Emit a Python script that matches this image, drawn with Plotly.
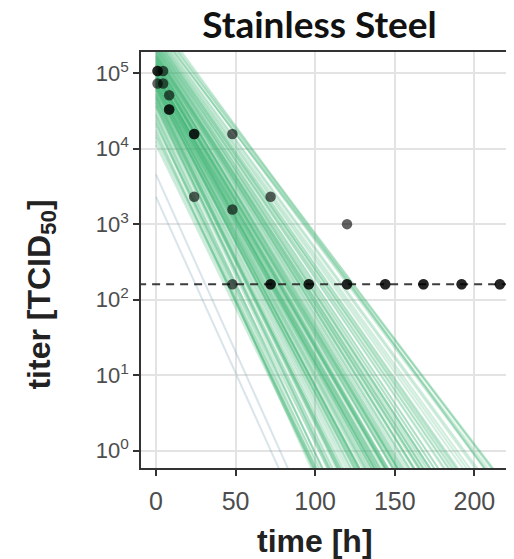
import plotly.graph_objects as go

# ---- data ----
obs_time = [1, 1, 4.5, 1, 4.5, 8.3, 8.3, 8.3, 24, 24, 48, 24, 72, 48, 120,
            48, 72, 72, 96, 96, 120, 120, 144, 144, 168, 168, 192, 192, 216, 216]
obs_titer = [107000, 107000, 107000, 73000, 73000, 51000, 33000, 33000, 15600, 15600, 15600,
             2300, 2300, 1560, 1000,
             160, 160, 160, 160, 160, 160, 160, 160, 160, 160, 160, 160, 160, 160, 160]
detection_limit = 160

# posterior sample lines: log10(titer) = intercept - slope * t
line_intercept = [5.00, 5.11, 4.86, 5.28, 4.69, 5.42, 4.55, 5.18, 4.93, 5.56,
                  4.41, 5.04, 4.79, 5.31, 4.65, 5.21, 4.90, 5.49, 4.48, 5.07,
                  4.97, 5.14, 4.83, 5.35, 4.72, 5.25, 4.60, 5.02, 5.38, 4.88,
                  5.10, 4.76, 5.46, 4.98, 5.20, 4.62, 5.60, 4.35, 5.16, 4.95,
                  5.05, 4.81, 5.33, 4.70, 5.24, 4.91, 5.12, 4.85, 5.40, 4.58,
                  5.65, 4.25, 5.08, 4.99, 5.29, 4.74, 5.52, 4.45, 5.19, 4.87,
                  5.01, 5.36, 4.67, 5.13, 4.10, 5.70, 4.94, 5.23, 4.80, 5.44,
                  4.05, 4.18, 4.30, 5.58, 5.75,
                  4.96, 5.09, 4.84, 5.26, 4.73, 5.39, 4.57, 5.17, 4.92, 5.50,
                  4.44, 5.03, 4.78, 5.32, 4.66, 5.22, 4.89, 5.47, 4.52, 5.06,
                  4.99, 5.15, 4.82, 5.34, 4.71, 5.27, 4.63, 5.00, 5.41, 4.86,
                  5.11, 4.77, 5.45, 4.97, 5.21, 4.61, 5.62, 4.38, 5.15, 4.94,
                  5.04, 4.80, 5.30, 4.68, 5.23, 4.90, 5.12, 4.86, 5.37, 4.56,
                  4.22, 5.54, 4.33, 5.68, 4.15, 5.07, 4.95, 5.18, 4.83, 5.02]
line_slope = [0.0370, 0.0352, 0.0398, 0.0328, 0.0418, 0.0308, 0.0438, 0.0356, 0.0372, 0.0287,
              0.0462, 0.0362, 0.0405, 0.0322, 0.0428, 0.0342, 0.0390, 0.0297, 0.0452, 0.0350,
              0.0380, 0.0340, 0.0385, 0.0315, 0.0410, 0.0338, 0.0445, 0.0375, 0.0305, 0.0378,
              0.0366, 0.0400, 0.0300, 0.0358, 0.0330, 0.0425, 0.0280, 0.0470, 0.0348, 0.0386,
              0.0344, 0.0412, 0.0326, 0.0432, 0.0318, 0.0366, 0.0360, 0.0392, 0.0312, 0.0436,
              0.0278, 0.0455, 0.0372, 0.0364, 0.0334, 0.0396, 0.0292, 0.0448, 0.0336, 0.0402,
              0.0382, 0.0320, 0.0420, 0.0346, 0.0430, 0.0282, 0.0368, 0.0326, 0.0394, 0.0304,
              0.0432, 0.0440, 0.0420, 0.0275, 0.0290,
              0.0374, 0.0358, 0.0388, 0.0332, 0.0406, 0.0310, 0.0432, 0.0352, 0.0380, 0.0294,
              0.0458, 0.0366, 0.0398, 0.0318, 0.0424, 0.0336, 0.0384, 0.0302, 0.0442, 0.0354,
              0.0376, 0.0344, 0.0396, 0.0324, 0.0414, 0.0340, 0.0430, 0.0362, 0.0300, 0.0370,
              0.0370, 0.0392, 0.0306, 0.0350, 0.0328, 0.0418, 0.0284, 0.0466, 0.0354, 0.0378,
              0.0348, 0.0404, 0.0330, 0.0426, 0.0322, 0.0374, 0.0356, 0.0384, 0.0316, 0.0440,
              0.0448, 0.0288, 0.0436, 0.0286, 0.0426, 0.0368, 0.0360, 0.0340, 0.0400, 0.0388]
faint_intercept = [3.36, 3.66]
faint_slope = [0.0466, 0.0470]

x_ticks = [0, 50, 100, 150, 200]
y_tick_vals = [1, 10, 100, 1000, 10000, 100000]
y_tick_text = ["10<sup>0</sup>", "10<sup>1</sup>", "10<sup>2</sup>", "10<sup>3</sup>",
               "10<sup>4</sup>", "10<sup>5</sup>"]

# ---- geometry (page body has an 8px margin, so positions are offset) ----
W, H = 514, 559
L, R, T, B = 133, 9, 44, 99
PW, PH = W - L - R, H - T - B


def px_x(px):
    return (px - L) / PW


def px_y(py):
    return (H - B - py) / PH


fig = go.Figure()

t_end = 300
for a, b in zip(faint_intercept, faint_slope):
    fig.add_trace(go.Scatter(x=[0, t_end], y=[10 ** a, 10 ** (a - b * t_end)], mode="lines",
                             line=dict(color="rgba(130,170,185,0.3)", width=2),
                             hoverinfo="skip", showlegend=False))
for a, b in zip(line_intercept, line_slope):
    fig.add_trace(go.Scatter(x=[0, t_end], y=[10 ** a, 10 ** (a - b * t_end)], mode="lines",
                             line=dict(color="rgba(60,179,113,0.24)", width=2),
                             hoverinfo="skip", showlegend=False))

fig.add_trace(go.Scatter(x=[-20, 260], y=[detection_limit, detection_limit], mode="lines",
                         line=dict(color="rgba(40,40,40,0.9)", width=2, dash="8px,6px"),
                         hoverinfo="skip", showlegend=False))

fig.add_trace(go.Scatter(x=obs_time, y=obs_titer, mode="markers",
                         marker=dict(size=10.5, color="rgba(0,0,0,0.62)", line=dict(width=0)),
                         showlegend=False))

axis_common = dict(showline=True, linecolor="#333333", linewidth=1.5, mirror=True,
                   ticks="outside", ticklen=6, tickwidth=1.5, tickcolor="#333333",
                   showgrid=True, gridcolor="#e3e3e3", gridwidth=1.6, zeroline=False)

fig.update_xaxes(range=[-9.4, 223], tickvals=x_ticks, ticklabelstandoff=4,
                 tickfont=dict(family="Liberation Sans, Arial", size=25, color="#4d4d4d"),
                 **axis_common)
fig.update_yaxes(type="log", range=[-0.23, 5.28], tickvals=y_tick_vals, ticktext=y_tick_text,
                 tickfont=dict(family="Liberation Sans, Arial", size=22, color="#4d4d4d"),
                 **axis_common)

fig.update_layout(
    width=W, height=H,
    margin=dict(l=L, r=R, t=T, b=B),
    plot_bgcolor="white", paper_bgcolor="white",
    title=dict(text="<b>Stainless Steel</b>", x=311.5 / W, xref="container", xanchor="center",
               y=1 - 17 / H, yref="container", yanchor="middle",
               font=dict(family="Lato, Open Sans", size=37, color="#111111")),
    annotations=[
        dict(text="<b>time [h]</b>", x=px_x(308), y=px_y(533), xref="paper", yref="paper",
             showarrow=False, xanchor="center", yanchor="middle",
             font=dict(family="Liberation Sans, Arial", size=32, color="#222222")),
        dict(text="<b>titer [TCID<sub>50</sub>]</b>", x=px_x(32), y=px_y(287),
             xref="paper", yref="paper",
             showarrow=False, textangle=-90, xanchor="center", yanchor="middle",
             font=dict(family="Liberation Sans, Arial", size=32, color="#222222")),
    ],
)

fig.write_html("out.html")
